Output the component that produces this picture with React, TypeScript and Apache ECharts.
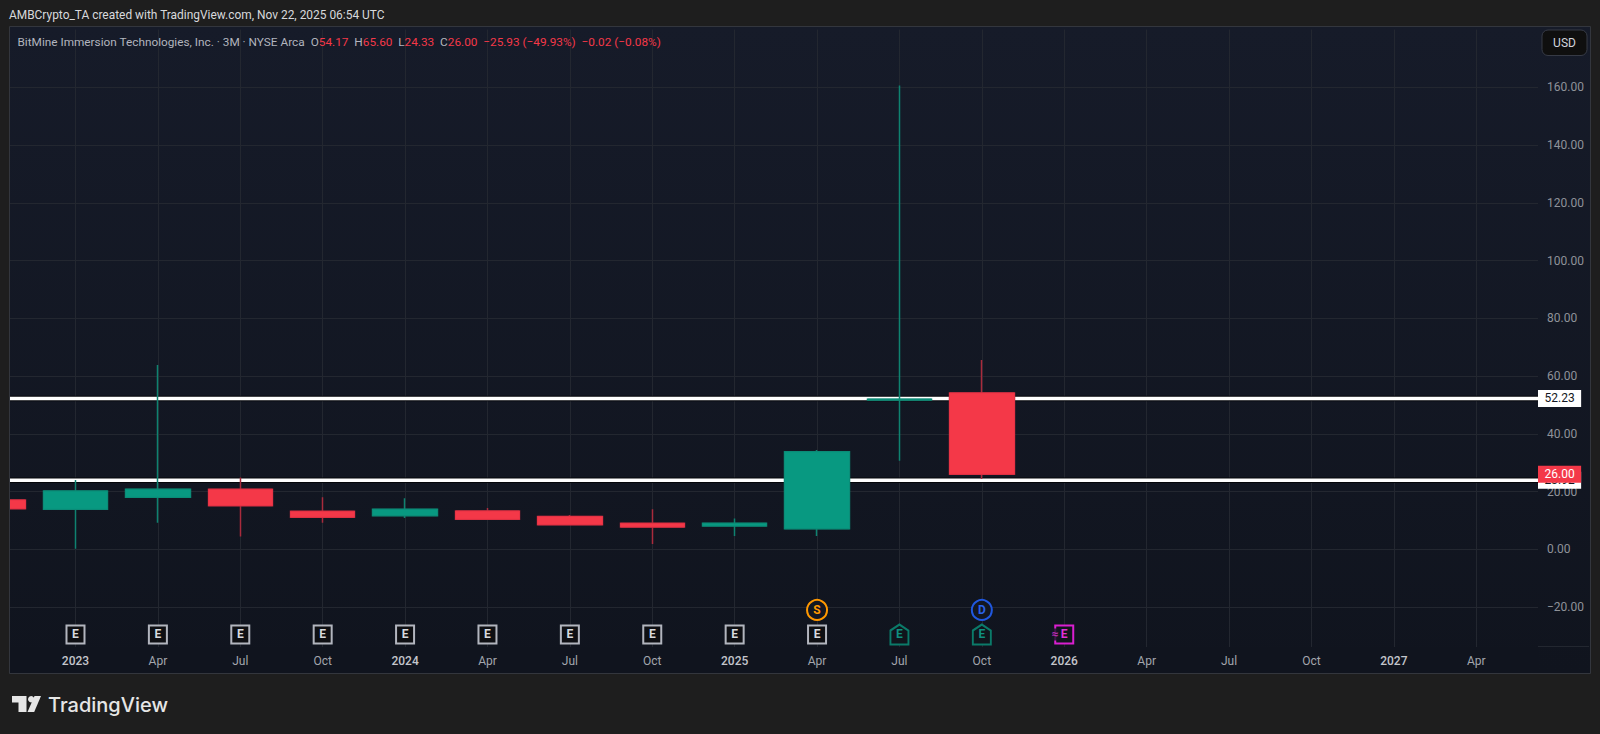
import React, { useEffect, useRef } from "react";
import * as echarts from "echarts";

const tickLabels = ["Oct","2023","Apr","Jul","Oct","2024","Apr","Jul","Oct","2025","Apr","Jul","Oct","2026","Apr","Jul","Oct","2027","Apr"];
const yearLabels = ["2023","2024","2025","2026","2027"];
const periods = [0,1,2,3,4,5,6,7,8,9,10,11,12];
const opens  = [17.07,13.85,18.0,20.8,13.15,11.65,13.26,11.4,9.0,8.1,7.1,51.7,54.17];
const closes = [14.06,20.2,20.8,15.1,11.1,13.85,10.39,8.5,7.7,9.0,33.8,52.0,26.0];
const lows   = [14.06,0.2,9.2,4.4,9.2,10.8,10.15,8.5,1.8,4.6,4.6,30.7,24.33];
const highs  = [17.07,24.0,63.8,24.9,18.0,17.65,14.3,11.9,13.85,10.7,34.4,160.6,65.6];
const levels = [52.23, 23.92];
const lastClose = 26.0;
const xMin = 0;
const xMax = 18.75;
const earningsPast = [1,2,3,4,5,6,7,8,9,10];
const earningsReported = [11,12];
const earningsFuture = [13];
const splits = [10];
const dividends = [12];
const earningsY = -29.5;
const eventY = -21;
const legendLabels = ["O","H","L","C"];
const legendValues = ["54.17","65.60","24.33","26.00"];
const legendChange = "−25.93 (−49.93%)  −0.02 (−0.08%)";
const titleText = "AMBCrypto_TA created with TradingView.com, Nov 22, 2025 06:54 UTC";
const symbolText = "BitMine Immersion Technologies, Inc. · 3M · NYSE Arca";

const PAGE = "#1e1e1e";
const PANE = "#131722";
const PANE_TOP = "#161b29";
const PANE_BOTTOM = "#10141e";
const GRID = "#232730";
const GREEN = "#089981";
const RED = "#f43848";
const FONT = "Roboto";
const HOUSE = "path://M0 6 L9 0 L18 6 L18 20 L0 20 Z";

function priceText(v: number) {
  return v.toFixed(2).replace("-", "−");
}

function markerSeries(xs: number[], y: number, symbol: string, size: any, stroke: string, text: string, textColor: string, fill: string) {
  return {
    type: "scatter",
    z: 3,
    symbol,
    symbolSize: size,
    data: xs.map((x) => [x, y]),
    itemStyle: { color: fill, borderColor: stroke, borderWidth: 2, opacity: 1 },
    label: {
      show: true,
      position: "inside",
      formatter: text,
      color: textColor,
      fontFamily: FONT,
      fontSize: 12,
      fontWeight: "bold",
    },
    silent: true,
  };
}

export default function App() {
  const ref = useRef<HTMLDivElement>(null);
  useEffect(() => {
    if (!ref.current) return;
    const chart = echarts.init(ref.current, undefined, { renderer: "svg" });
    const wickData = periods.map((x, i) => [x, opens[i], closes[i], lows[i], highs[i]]);
    const bodyData = periods.map((x, i) => [x, opens[i], closes[i], Math.min(opens[i], closes[i]), Math.max(opens[i], closes[i])]);
    const legendRich = legendLabels
      .map((l, i) => `{g|${l}}{r|${legendValues[i]}}`)
      .join("{g|  }");

    const levelSeries = levels.flatMap((v) => [
      {
        type: "line", z: 1, symbol: "none", silent: true,
        data: [[xMin, v], [xMax, v]],
        lineStyle: { color: "#05060a", width: 5.5 },
      },
      {
        type: "line", z: 1, symbol: "none", silent: true,
        data: [[xMin, v], [xMax, v]],
        lineStyle: { color: "#ffffff", width: 3.5 },
        endLabel: {
          show: true, distance: 0, formatter: () => priceText(v),
          color: "#131722", backgroundColor: "#ffffff", padding: [3, 6.5, 2, 6.5],
          fontFamily: FONT, fontSize: 12,
        },
      },
    ]);

    chart.setOption({
      animation: false,
      backgroundColor: PAGE,
      textStyle: { fontFamily: FONT },
      grid: { left: -6.9, right: 62, top: 29.55, bottom: 69.2, outerBoundsMode: "none", containLabel: false },
      xAxis: [
        {
          type: "value", min: xMin, max: xMax, interval: 1, z: 0,
          axisLine: { show: false }, axisTick: { show: false }, axisLabel: { show: false },
          splitLine: { show: true, showMinLine: false, showMaxLine: false, lineStyle: { color: GRID, width: 1 } },
        },
        {
          type: "value", min: xMin, max: xMax, interval: 1, z: 5, position: "bottom", offset: -10,
          axisLine: { show: false }, axisTick: { show: false }, splitLine: { show: false },
          axisLabel: {
            show: true, margin: 0, showMinLabel: false, showMaxLabel: false,
            color: "#a3a6ad", fontFamily: FONT, fontSize: 12,
            formatter: (v: number) => {
              const t = Number.isInteger(v) ? tickLabels[v] ?? "" : "";
              return yearLabels.includes(t) ? `{y|${t}}` : t;
            },
            rich: { y: { color: "#c4c6cc", fontFamily: FONT, fontSize: 12, fontWeight: 500 } },
          },
        },
      ],
      yAxis: {
        type: "value", position: "right", min: -40, max: 180, interval: 20, z: 0,
        axisLine: { show: false }, axisTick: { show: false },
        splitLine: { show: true, showMinLine: false, showMaxLine: false, lineStyle: { color: GRID, width: 1 } },
        axisLabel: {
          show: true, margin: 9, showMinLabel: false, showMaxLabel: false,
          color: "#8f9299", fontFamily: FONT, fontSize: 12, padding: [2, 0, 0, 0],
          formatter: (v: number) => priceText(v),
        },
      },
      series: [
        ...levelSeries,
        {
          type: "candlestick", z: 2, barWidth: 65, silent: true,
          encode: { x: 0, y: [1, 2, 3, 4] },
          data: wickData,
          itemStyle: { color: GREEN, color0: RED, borderColor: "#0f8270", borderColor0: "#a92b3c", borderWidth: 1.5 },
        },
        {
          type: "candlestick", z: 2, barWidth: 65, silent: true,
          encode: { x: 0, y: [1, 2, 3, 4] },
          data: bodyData,
          itemStyle: { color: GREEN, color0: RED, borderColor: "#0b8d78", borderColor0: "#e83345", borderWidth: 1 },
        },
        {
          type: "line", z: 4, symbol: "none", silent: true,
          data: [[xMin, lastClose], [xMax, lastClose]],
          lineStyle: { opacity: 0 },
          endLabel: {
            show: true, distance: 0, formatter: () => priceText(lastClose),
            color: "#ffffff", backgroundColor: RED, padding: [3, 6.5, 2, 6.5],
            fontFamily: FONT, fontSize: 12,
          },
        },
        markerSeries(earningsPast, earningsY, "rect", 18, "#b2b5be", "E", "#d8dadf", "#0e0f13"),
        markerSeries(earningsReported, earningsY, HOUSE, [18, 20], "#0b7a69", "E", "#0f9080", "#10151c"),
        markerSeries(earningsFuture, earningsY, "rect", 18, "#d91fd0", "E", "#e030d8", "#10151c"),
        {
          type: "scatter", z: 4, symbol: "circle", symbolSize: 1, silent: true,
          data: earningsFuture.map((x) => [x, earningsY]),
          itemStyle: { color: "transparent" },
          label: {
            show: true, position: "inside", offset: [-9, 0], formatter: "≈",
            color: "#e030d8", backgroundColor: PANE, fontFamily: FONT, fontSize: 12, fontWeight: "bold",
          },
        },
        markerSeries(splits, eventY, "circle", 20, "#ff9800", "S", "#ff9800", PANE),
        markerSeries(dividends, eventY, "circle", 20, "#2058e0", "D", "#2a62ea", PANE),
      ],
      graphic: [
        {
          type: "rect", z: -10, silent: true, shape: { x: 10, y: 26, width: 1580, height: 647 },
          style: { fill: new echarts.graphic.LinearGradient(0, 0, 0, 1, [{ offset: 0, color: PANE_TOP }, { offset: 1, color: PANE_BOTTOM }]) },
        },
        { type: "rect", z: 1, silent: true, shape: { x: 10, y: 647, width: 1529, height: 26 }, style: { fill: PANE_BOTTOM } },
        { type: "line", z: 1, silent: true, shape: { x1: 1538, y1: 646.5, x2: 1589, y2: 646.5 }, style: { stroke: GRID, lineWidth: 1 } },
        { type: "rect", z: 100, silent: true, shape: { x: 0, y: 0, width: 10, height: 734 }, style: { fill: PAGE } },
        { type: "rect", z: 101, silent: true, shape: { x: 9.5, y: 26.5, width: 1581, height: 647 }, style: { fill: "none", stroke: "#33363d", lineWidth: 1 } },
        { type: "text", z: 102, silent: true, x: 9, y: 15, style: { text: titleText, fill: "#d8d9dc", fontFamily: FONT, fontSize: 11.93, verticalAlign: "middle" } },
        {
          type: "text", z: 102, silent: true, x: 17.5, y: 42,
          style: {
            text: `{g|${symbolText}  }${legendRich}{g|  }{r|${legendChange}}`,
            verticalAlign: "middle",
            rich: {
              g: { fill: "#b2b5be", fontFamily: FONT, fontSize: 11.8 },
              r: { fill: RED, fontFamily: FONT, fontSize: 11.8 },
            },
          },
        },
        { type: "rect", z: 102, silent: true, shape: { x: 1542, y: 30, width: 45, height: 25.5, r: 6 }, style: { fill: "#0f0f0f", stroke: "#363a45", lineWidth: 1 } },
        { type: "text", z: 103, silent: true, x: 1564.5, y: 43, style: { text: "USD", fill: "#d1d4dc", fontFamily: FONT, fontSize: 12, align: "center", verticalAlign: "middle" } },
        { type: "polygon", z: 102, silent: true, shape: { points: [[12, 696], [26.5, 696], [26.5, 712], [18.5, 712], [18.5, 702.5], [12, 702.5]] }, style: { fill: "#e6e6e6" } },
        { type: "circle", z: 102, silent: true, shape: { cx: 31.2, cy: 699.2, r: 3.2 }, style: { fill: "#e6e6e6" } },
        { type: "polygon", z: 102, silent: true, shape: { points: [[34.5, 696], [41, 696], [34.2, 712], [27.5, 712]] }, style: { fill: "#e6e6e6" } },
        { type: "text", z: 102, silent: true, x: 48, y: 705, style: { text: "TradingView", fill: "#e6e6e6", fontFamily: "Inter", fontSize: 20, fontWeight: 500, verticalAlign: "middle" } },
      ],
    });
    return () => chart.dispose();
  }, []);
  return <div ref={ref} style={{ position: "fixed", left: 0, top: 0, width: 1600, height: 734 }} />;
}
